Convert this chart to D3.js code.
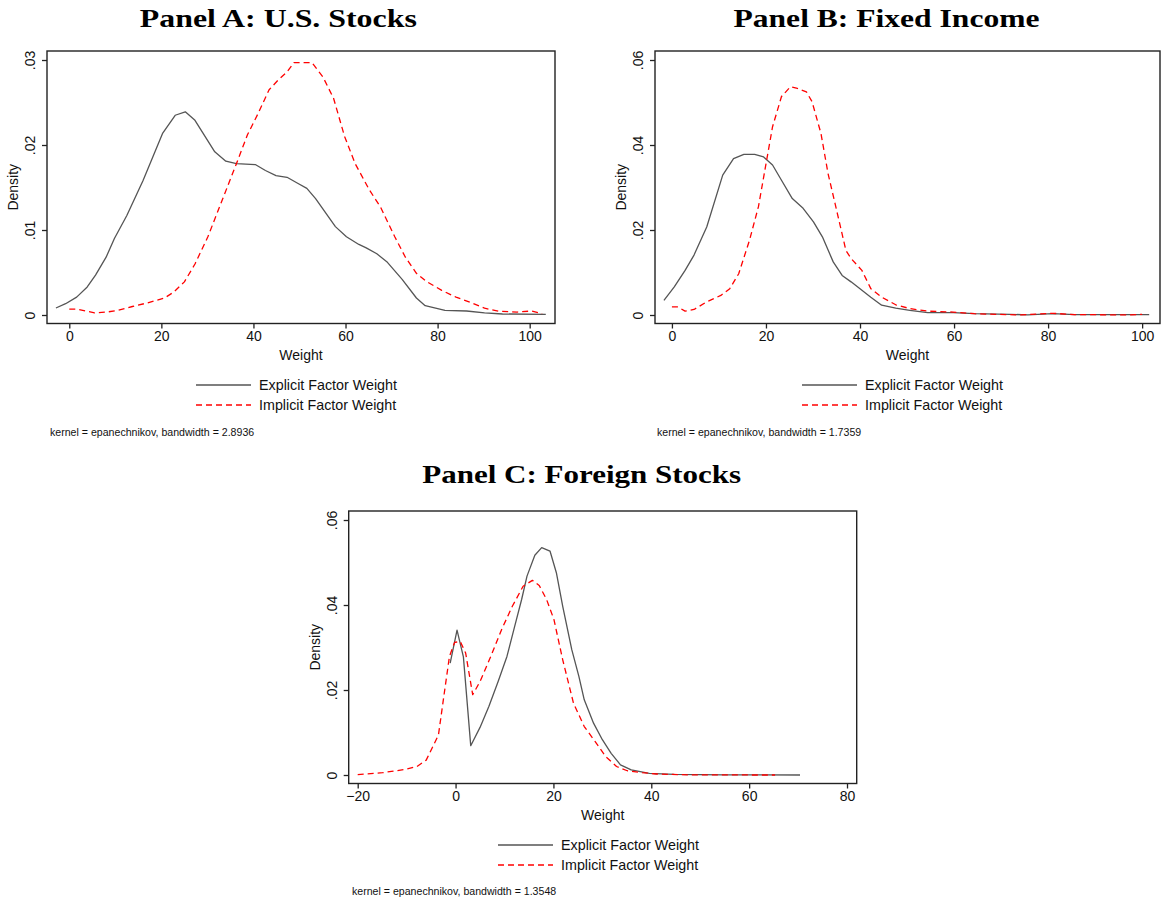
<!DOCTYPE html>
<html>
<head>
<meta charset="utf-8">
<script src="https://cdn.jsdelivr.net/npm/d3@7"></script>
<style>
  html, body { margin: 0; padding: 0; background: #fff; }
  svg { display: block; }
</style>
</head>
<body>
<svg id="chart" width="1162" height="902"></svg>
<script>
// ---------------- DATA ----------------
const legendLabels = ["Explicit Factor Weight", "Implicit Factor Weight"];

// Panel A: U.S. Stocks  [weight, density]
const usExplicit = [[-2.9,0.00082],[-0.8,0.00133],[1.6,0.0021],[3.9,0.0033],[5.7,0.0047],[8.0,0.0068],[9.8,0.0090],[12.5,0.0117],[16.0,0.0158],[20.3,0.0214],[23.0,0.0235],[25.2,0.0239],[27.3,0.0229],[31.6,0.0192],[34.0,0.0181],[36.3,0.0178],[40.4,0.0177],[42.6,0.0170],[44.9,0.0164],[47.3,0.0162],[49.6,0.0155],[51.6,0.0149],[53.5,0.0137],[57.8,0.0104],[60.2,0.0092],[62.9,0.0083],[64.5,0.0079],[66.8,0.0072],[69.1,0.0062],[72.3,0.0042],[75.4,0.0020],[77.3,0.0011],[81.6,0.00055],[86.3,0.00047],[90.2,0.00024],[94.1,0.00012],[103.5,0.00008]];
const usImplicit = [[0,0.0007],[1.6,0.0007],[5.5,0.00024],[8.2,0.00035],[10.5,0.00055],[13.7,0.001],[16.8,0.0014],[20.7,0.002],[22.7,0.0027],[25.0,0.0039],[27.3,0.006],[30.1,0.0092],[33.2,0.0135],[36.3,0.0178],[38.7,0.0212],[41.0,0.0237],[43.4,0.0265],[45.3,0.0276],[47.3,0.0286],[48.8,0.0297],[50.4,0.0297],[52.7,0.0297],[55.1,0.028],[57.4,0.0255],[59.8,0.021],[62.1,0.0178],[65.2,0.0147],[67.6,0.0127],[70.7,0.0092],[73.0,0.0068],[75.4,0.0049],[77.7,0.0039],[80.9,0.0029],[84.0,0.0021],[87.1,0.0015],[90.2,0.0008],[93.4,0.00043],[97.3,0.00035],[100.4,0.00047],[102.7,0.00016]];

// Panel B: Fixed Income
const fiExplicit = [[-1.7,0.00345],[0.5,0.0066],[2.8,0.0105],[4.7,0.0141],[7.4,0.0207],[10.8,0.0329],[13.1,0.0368],[15.3,0.0378],[17.6,0.0378],[19.5,0.0372],[21.4,0.0353],[23.3,0.0317],[25.6,0.0274],[27.9,0.0251],[30.1,0.0219],[32.0,0.0184],[34.3,0.0125],[36.2,0.0093],[38.1,0.0078],[40.0,0.0062],[42.3,0.0042],[44.6,0.0023],[47.6,0.0016],[50.6,0.0011],[54.4,0.00055],[59.8,0.00055],[64.3,0.0003],[71.9,0.00016],[75.7,0.00002],[81.0,0.0003],[85.6,0.0001],[101.5,0.0001]];
const fiImplicit = [[0,0.0019],[1.3,0.0019],[2.8,0.0009],[4.7,0.0013],[7.4,0.0031],[10.4,0.0046],[12.3,0.0062],[14.2,0.0097],[16.5,0.0176],[18.4,0.0255],[19.9,0.0349],[21.4,0.0443],[23.3,0.0514],[25.2,0.0537],[26.7,0.0533],[28.6,0.0525],[29.8,0.0502],[31.7,0.0427],[33.2,0.0333],[34.7,0.0262],[37.0,0.0152],[38.1,0.0133],[40.4,0.0105],[42.3,0.0062],[44.6,0.0042],[47.6,0.0024],[50.6,0.0015],[54.4,0.0009],[59.8,0.0007],[64.3,0.0003],[74.2,0.00002],[81.0,0.0004],[85.6,0.0001],[97.0,0.00002],[100,0.00015]];

// Panel C: Foreign Stocks
const fsExplicit = [[-1.1,0.0263],[0.3,0.0341],[1.6,0.0278],[3.1,0.0069],[5.0,0.0112],[6.8,0.0161],[8.7,0.022],[10.5,0.0279],[12.0,0.0346],[13.5,0.0413],[14.6,0.0468],[16.2,0.0517],[17.6,0.0535],[19.3,0.0527],[20.6,0.0476],[21.9,0.0397],[23.75,0.0295],[25.2,0.0232],[26.3,0.0177],[28.2,0.0122],[30.0,0.0083],[31.8,0.0051],[33.7,0.0024],[35.9,0.0012],[39.6,0.0004],[44.7,0.00016],[55,0.00005],[70.4,0]];
const fsImplicit = [[-20,0.0001],[-14.9,0.00055],[-10.4,0.0013],[-7.9,0.002],[-6.0,0.0035],[-3.5,0.0094],[-2.4,0.0185],[-1.25,0.0279],[-0.2,0.0312],[0.96,0.0314],[2.06,0.0287],[3.5,0.0189],[5.0,0.022],[7.2,0.0279],[9.4,0.0342],[11.6,0.0397],[13.8,0.0444],[15.7,0.0458],[17.1,0.0446],[18.6,0.0413],[20.1,0.0366],[21.9,0.0271],[24.1,0.0169],[26.3,0.0114],[28.5,0.0079],[30.7,0.0043],[32.9,0.002],[35.1,0.001],[38.1,0.00055],[41.0,0.00024],[48.4,0.00002],[65.3,0]];

// Tick values / labels
const xTicksAB = [0, 20, 40, 60, 80, 100];
const xTicksC = [-20, 0, 20, 40, 60, 80];
const yTicksA = [0, 0.01, 0.02, 0.03];
const yTicksA_labels = ["0", ".01", ".02", ".03"];
const yTicksBC = [0, 0.02, 0.04, 0.06];
const yTicksBC_labels = ["0", ".02", ".04", ".06"];

const titles = ["Panel A: U.S. Stocks", "Panel B: Fixed Income", "Panel C: Foreign Stocks"];
const notes = ["kernel = epanechnikov, bandwidth = 2.8936",
               "kernel = epanechnikov, bandwidth = 1.7359",
               "kernel = epanechnikov, bandwidth = 1.3548"];

// ---------------- LAYOUT ----------------
const panels = [
  { title: titles[0], titleX: 278.3, titleY: 26.7, titleW: 277,
    frame: { x0: 47, x1: 555, y0: 51, y1: 323.5 },
    xDomain: [-4.84, 105.5], yDomain: [-0.001, 0.03106],
    xTicks: xTicksAB, yTicks: yTicksA, yLabels: yTicksA_labels,
    explicit: usExplicit, implicit: usImplicit,
    legX: 196, legY: 385, note: notes[0], noteX: 50, noteY: 435.5 },
  { title: titles[1], titleX: 886.5, titleY: 26.7, titleW: 306,
    frame: { x0: 655, x1: 1160, y0: 51, y1: 323.5 },
    xDomain: [-3.6, 103.8], yDomain: [-0.002, 0.06212],
    xTicks: xTicksAB, yTicks: yTicksBC, yLabels: yTicksBC_labels,
    explicit: fiExplicit, implicit: fiImplicit,
    legX: 802, legY: 385, note: notes[1], noteX: 657, noteY: 435.5 },
  { title: titles[2], titleX: 581.7, titleY: 483, titleW: 319,
    frame: { x0: 348.7, x1: 856.7, y0: 511, y1: 783.5 },
    xDomain: [-21.84, 81.98], yDomain: [-0.002, 0.06212],
    xTicks: xTicksC, yTicks: yTicksBC, yLabels: yTicksBC_labels,
    explicit: fsExplicit, implicit: fsImplicit,
    legX: 498, legY: 845, note: notes[2], noteX: 352, noteY: 894.5 }
];

const svg = d3.select("#chart");
svg.append("rect").attr("width", 1162).attr("height", 902).attr("fill", "#fff");

const sans = "'Liberation Sans', Arial, Helvetica, sans-serif";
const serif = "'Liberation Serif', 'DejaVu Serif', serif";
const explicitColor = "#555555";
const implicitColor = "#ff0000";

panels.forEach(p => {
  const f = p.frame;
  const x = d3.scaleLinear().domain(p.xDomain).range([f.x0, f.x1]);
  const y = d3.scaleLinear().domain(p.yDomain).range([f.y1, f.y0]);
  const g = svg.append("g");

  // Title
  g.append("text")
    .attr("x", p.titleX).attr("y", p.titleY)
    .attr("text-anchor", "middle")
    .attr("font-family", serif).attr("font-weight", "bold")
    .attr("font-size", 25)
    .attr("textLength", p.titleW).attr("lengthAdjust", "spacingAndGlyphs")
    .attr("fill", "#000")
    .text(p.title);

  // Curves
  const line = d3.line().x(d => x(d[0])).y(d => y(d[1])).curve(d3.curveLinear);
  g.append("path").datum(p.explicit).attr("d", line)
    .attr("fill", "none").attr("stroke", explicitColor).attr("stroke-width", 1.3)
    .attr("stroke-linejoin", "round");
  g.append("path").datum(p.implicit).attr("d", line)
    .attr("fill", "none").attr("stroke", implicitColor).attr("stroke-width", 1.3)
    .attr("stroke-linejoin", "round")
    .attr("stroke-dasharray", "6,4");

  // Frame
  g.append("rect")
    .attr("x", f.x0).attr("y", f.y0)
    .attr("width", f.x1 - f.x0).attr("height", f.y1 - f.y0)
    .attr("fill", "none").attr("stroke", "#222").attr("stroke-width", 1.4);

  // X axis
  const xAxis = d3.axisBottom(x).tickValues(p.xTicks).tickSize(5).tickSizeOuter(0).tickPadding(3)
    .tickFormat(d3.format("d"));
  const gx = g.append("g").attr("transform", `translate(0,${f.y1})`).call(xAxis);
  gx.select(".domain").remove();
  gx.selectAll("line").attr("stroke", "#222").attr("stroke-width", 1.3);
  gx.selectAll("text").attr("font-family", sans).attr("font-size", 14).attr("fill", "#111");

  // Y axis (rotated labels)
  const yAxis = d3.axisLeft(y).tickValues(p.yTicks).tickSize(5).tickSizeOuter(0)
    .tickFormat((d, i) => p.yLabels[i]);
  const gy = g.append("g").attr("transform", `translate(${f.x0},0)`).call(yAxis);
  gy.select(".domain").remove();
  gy.selectAll("line").attr("stroke", "#222").attr("stroke-width", 1.3);
  gy.selectAll("text")
    .attr("font-family", sans).attr("font-size", 14).attr("fill", "#111")
    .attr("x", 0).attr("dy", 0)
    .attr("text-anchor", "middle")
    .attr("transform", "translate(-12,0) rotate(-90)");

  // Axis titles
  g.append("text")
    .attr("x", (f.x0 + f.x1) / 2).attr("y", f.y1 + 36)
    .attr("text-anchor", "middle")
    .attr("font-family", sans).attr("font-size", 14).attr("fill", "#111")
    .text("Weight");
  g.append("text")
    .attr("transform", `translate(${f.x0 - 29},${(f.y0 + f.y1) / 2}) rotate(-90)`)
    .attr("text-anchor", "middle")
    .attr("font-family", sans).attr("font-size", 14).attr("fill", "#111")
    .text("Density");

  // Legend
  const styles = [
    { color: explicitColor, dash: null },
    { color: implicitColor, dash: "6,4" }
  ];
  legendLabels.forEach((lab, i) => {
    const ly = p.legY + i * 20;
    const ln = g.append("line")
      .attr("x1", p.legX).attr("x2", p.legX + 55)
      .attr("y1", ly).attr("y2", ly)
      .attr("stroke", styles[i].color).attr("stroke-width", 1.3);
    if (styles[i].dash) ln.attr("stroke-dasharray", styles[i].dash);
    g.append("text")
      .attr("x", p.legX + 63).attr("y", ly + 5)
      .attr("font-family", sans).attr("font-size", 14.3).attr("fill", "#111")
      .text(lab);
  });

  // Note
  g.append("text")
    .attr("x", p.noteX).attr("y", p.noteY)
    .attr("font-family", sans).attr("font-size", 10.6).attr("fill", "#111")
    .text(p.note);
});
</script>
</body>
</html>
